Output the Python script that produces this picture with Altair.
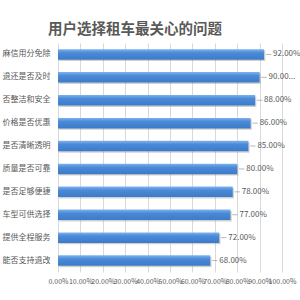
import altair as alt
import pandas as pd

categories = ["麻信用分免除", "退还是否及时", "否整洁和安全", "价格是否优惠", "是否清晰透明",
              "质量是否可靠", "是否足够便捷", "车型可供选择", "提供全程服务", "能否支持退改"]
values = [0.92, 0.90, 0.88, 0.86, 0.85, 0.80, 0.78, 0.77, 0.72, 0.68]
value_labels = ["92.00%", "90.00...", "88.00%", "86.00%", "85.00%", "80.00%", "78.00%", "77.00%", "72.00%", "68.00%"]
x_ticks = [0, 0.1, 0.2, 0.3, 0.4, 0.5, 0.6, 0.7, 0.8, 0.9, 1.0]

df = pd.DataFrame({"cat": categories, "v": values, "lab": value_labels})

FONT = "Noto Sans CJK SC"
GRAY = "#595959"

y_scale = alt.Scale(paddingInner=0.54, paddingOuter=0.27)
x_scale = alt.Scale(domain=[0, 1], nice=False)

y_ax = alt.Axis(labelFontSize=8, labelColor=GRAY, labelFont=FONT, ticks=False,
                domain=False, labelPadding=8, labelLimit=200)
x_ax = alt.Axis(values=x_ticks, format=".2%", labelFontSize=7, labelColor=GRAY,
                labelFont=FONT, ticks=False, domain=False, grid=True,
                gridColor="#d9d9d9", labelOverlap=False, labelPadding=5,
                labelFlush=False, labelBound=False)


def X(field):
    return alt.X(field, scale=x_scale, title=None, axis=x_ax)


Y = alt.Y("cat:N", sort=None, title=None, scale=y_scale, axis=y_ax)

base = alt.Chart(df)

shadow = base.mark_bar(color="#8c8c8c", opacity=0.4, xOffset=1.2, yOffset=1.4).encode(
    x=X("v:Q"), y=Y)

bars = base.mark_bar(
    color=alt.Gradient(gradient="linear", x1=0, y1=0, x2=0, y2=1,
                       stops=[alt.GradientStop(color="#7fb2ec", offset=0),
                              alt.GradientStop(color="#4a8ad8", offset=0.35),
                              alt.GradientStop(color="#3d7bc8", offset=1)])
).encode(x=X("v:Q"), y=Y)

leader = base.transform_calculate(a="datum.v + 0.008", b="datum.v + 0.032").mark_rule(
    color="#a6a6a6", strokeWidth=0.8).encode(x=X("a:Q"), x2="b:Q", y=Y)

text = base.mark_text(align="left", baseline="middle", dx=9, fontSize=8, font=FONT, color=GRAY).encode(
    x=X("v:Q"), y=Y, text="lab:N")

chart = alt.layer(shadow, bars, leader, text).properties(
    width=300, height=300,
    autosize=alt.AutoSizeParams(type="fit", contains="padding"),
    padding={"left": 2, "top": 21, "right": 4, "bottom": 16},
    title=alt.TitleParams("用户选择租车最关心的问题", fontSize=14.5, font=FONT, fontWeight="bold",
                          color=GRAY, anchor="start", frame="bounds", dx=46, offset=6)
).configure_view(stroke=None)

chart.save("out.html", embed_options={"renderer": "svg", "actions": False})
